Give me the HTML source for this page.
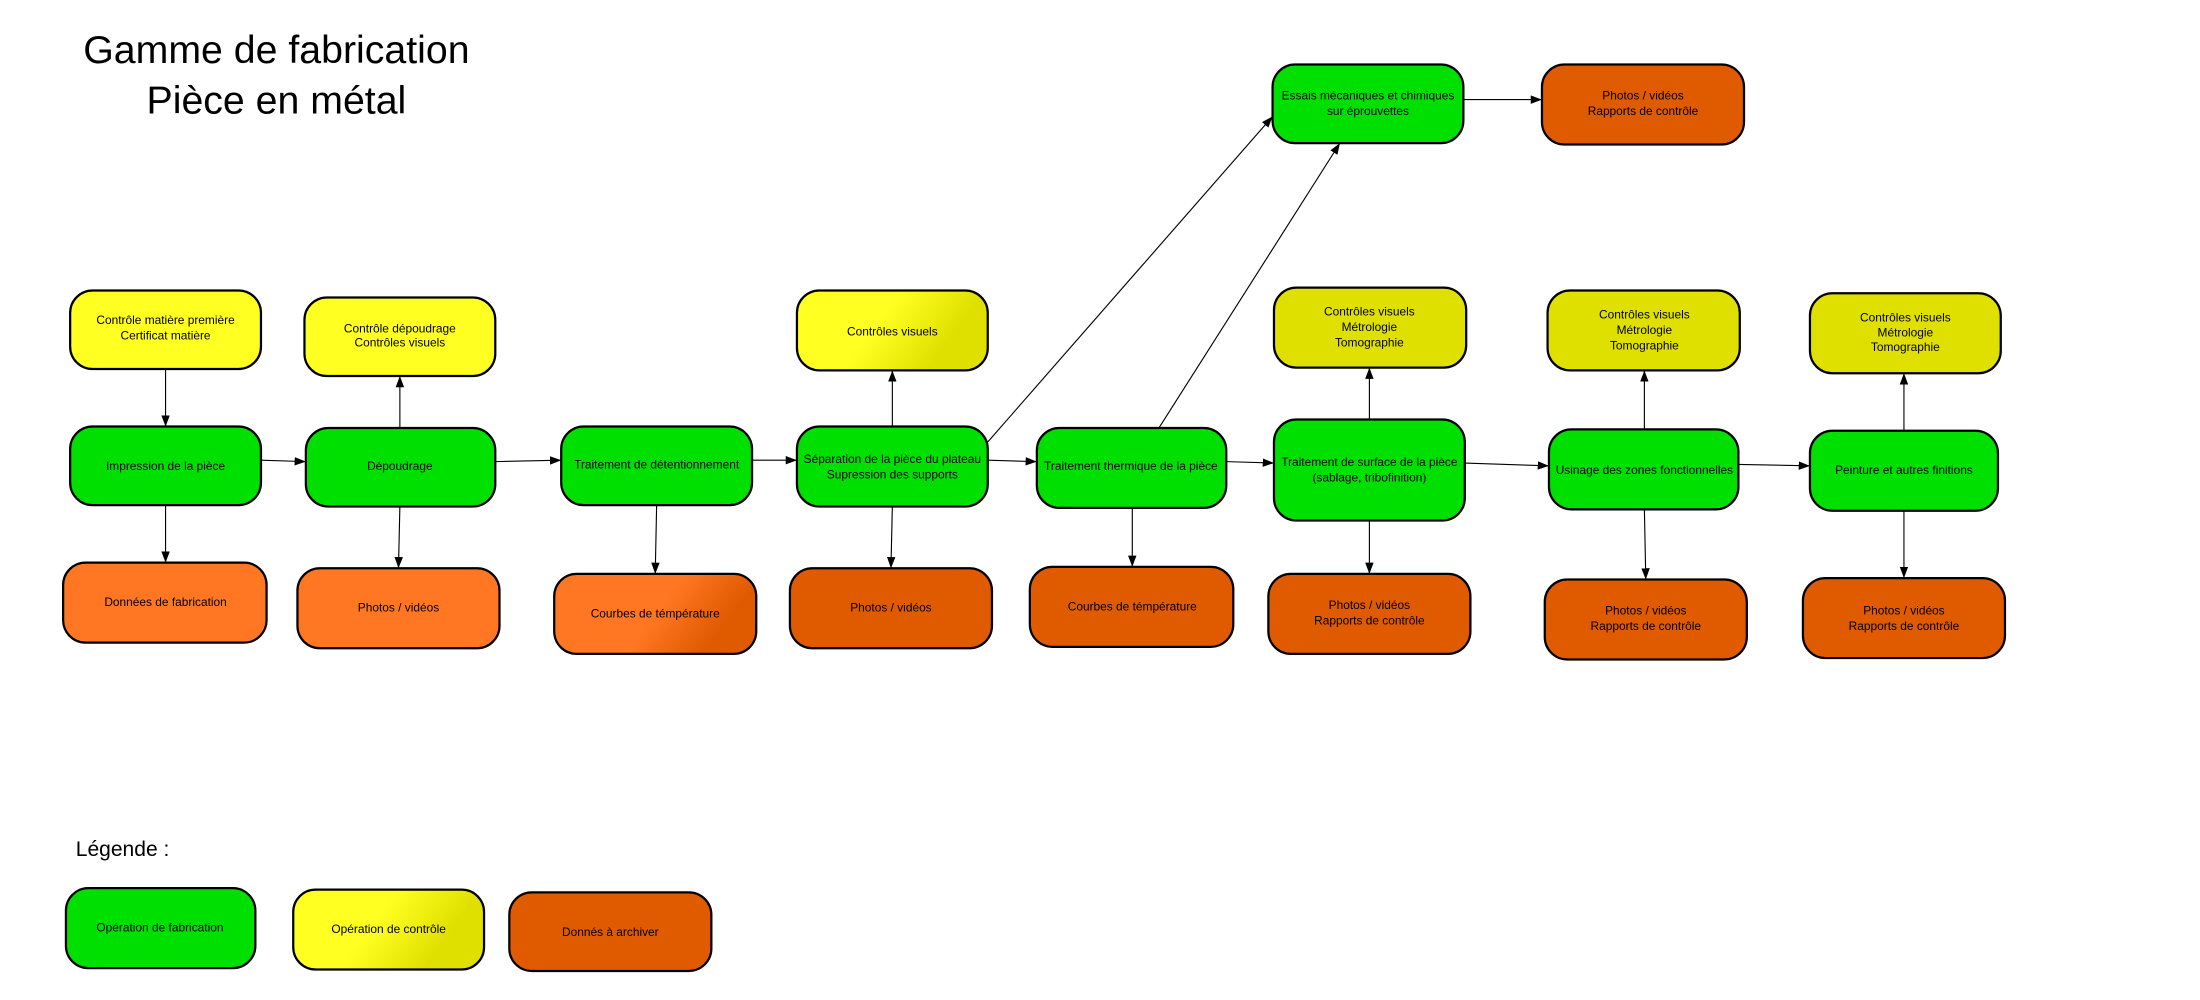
<!DOCTYPE html>
<html><head><meta charset="utf-8"><style>
html,body{margin:0;padding:0;background:#fff;}
svg{display:block;}
text{font-family:"Liberation Sans",sans-serif;fill:#000;}
</style></head><body>
<svg width="2200" height="1000" viewBox="0 0 1568 712.7" preserveAspectRatio="none" xmlns="http://www.w3.org/2000/svg">
<defs>
<marker id="a" markerWidth="8" markerHeight="6" refX="8" refY="3" orient="auto" markerUnits="userSpaceOnUse">
<path d="M0,0 L8,3 L0,6 z" fill="#000"/></marker>
<linearGradient id="gy" x1="0" y1="0" x2="1" y2="0.3"><stop offset="0.5" stop-color="#ffff22"/><stop offset="0.9" stop-color="#e0e000"/></linearGradient>
<linearGradient id="go" x1="0" y1="0" x2="1" y2="0.3"><stop offset="0.6" stop-color="#ff7722"/><stop offset="0.95" stop-color="#e05a00"/></linearGradient>
</defs>
<text x="197" y="45" font-size="28" text-anchor="middle">Gamme de fabrication</text>
<text x="197" y="81" font-size="28" text-anchor="middle">Pièce en métal</text>

<g stroke="#000" stroke-width="1.6">
<rect x="50" y="207" width="136" height="56" rx="16" fill="#ffff22"/>
<rect x="50" y="304" width="136" height="56" rx="16" fill="#00e000"/>
<rect x="45" y="401" width="145" height="57" rx="16" fill="#ff7722"/>
<rect x="217" y="212" width="136" height="56" rx="16" fill="#ffff22"/>
<rect x="218" y="305" width="135" height="56" rx="16" fill="#00e000"/>
<rect x="212" y="405" width="144" height="57" rx="16" fill="#ff7722"/>
<rect x="400" y="304" width="136" height="56" rx="16" fill="#00e000"/>
<rect x="395" y="409" width="144" height="57" rx="16" fill="url(#go)"/>
<rect x="568" y="207" width="136" height="57" rx="16" fill="url(#gy)"/>
<rect x="568" y="304" width="136" height="57" rx="16" fill="#00e000"/>
<rect x="563" y="405" width="144" height="57" rx="16" fill="#e05a00"/>
<rect x="739" y="305" width="135" height="57" rx="16" fill="#00e000"/>
<rect x="734" y="404" width="145" height="57" rx="16" fill="#e05a00"/>
<rect x="907" y="46" width="136" height="56" rx="16" fill="#00e000"/>
<rect x="1099" y="46" width="144" height="57" rx="16" fill="#e05a00"/>
<rect x="908" y="205" width="137" height="57" rx="16" fill="#e0e000"/>
<rect x="908" y="299" width="136" height="72" rx="16" fill="#00e000"/>
<rect x="904" y="409" width="144" height="57" rx="16" fill="#e05a00"/>
<rect x="1103" y="207" width="137" height="57" rx="16" fill="#e0e000"/>
<rect x="1104" y="306" width="135" height="57" rx="16" fill="#00e000"/>
<rect x="1101" y="413" width="144" height="57" rx="16" fill="#e05a00"/>
<rect x="1290" y="209" width="136" height="57" rx="16" fill="#e0e000"/>
<rect x="1290" y="307" width="134" height="57" rx="16" fill="#00e000"/>
<rect x="1285" y="412" width="144" height="57" rx="16" fill="#e05a00"/>
<rect x="47" y="633" width="135" height="57" rx="16" fill="#00e000"/>
<rect x="209" y="634" width="136" height="57" rx="16" fill="url(#gy)"/>
<rect x="363" y="636" width="144" height="56" rx="16" fill="#e05a00"/>
</g>

<g stroke="#000" stroke-width="0.8" marker-end="url(#a)">
<line x1="118" y1="263" x2="118" y2="304"/>
<line x1="186" y1="328" x2="218" y2="329"/>
<line x1="118" y1="360" x2="118" y2="401"/>
<line x1="285" y1="305" x2="285" y2="268"/>
<line x1="285" y1="361" x2="284" y2="405"/>
<line x1="353" y1="329" x2="400" y2="328"/>
<line x1="468" y1="360" x2="467" y2="409"/>
<line x1="536" y1="328" x2="568" y2="328"/>
<line x1="636" y1="304" x2="636" y2="264"/>
<line x1="636" y1="361" x2="635" y2="405"/>
<line x1="704" y1="328" x2="739" y2="329"/>
<line x1="704" y1="315" x2="907" y2="83"/>
<line x1="826" y1="305" x2="955" y2="102"/>
<line x1="807" y1="362" x2="807" y2="404"/>
<line x1="874" y1="329" x2="908" y2="330"/>
<line x1="976" y1="299" x2="976" y2="262"/>
<line x1="976" y1="371" x2="976" y2="409"/>
<line x1="1044" y1="330" x2="1104" y2="332"/>
<line x1="1043" y1="71" x2="1099" y2="71"/>
<line x1="1172" y1="306" x2="1172" y2="264"/>
<line x1="1172" y1="363" x2="1173" y2="413"/>
<line x1="1239" y1="331" x2="1290" y2="332"/>
<line x1="1357" y1="307" x2="1357" y2="266"/>
<line x1="1357" y1="364" x2="1357" y2="412"/>
</g>

<g font-size="8.5" text-anchor="middle">
<text x="118" y="231">Contrôle matière première</text><text x="118" y="242">Certificat matière</text>
<text x="118" y="335">Impression de la pièce</text>
<text x="118" y="432">Données de fabrication</text>
<text x="285" y="237">Contrôle dépoudrage</text><text x="285" y="247">Contrôles visuels</text>
<text x="285" y="335">Dépoudrage</text>
<text x="284" y="436">Photos / vidéos</text>
<text x="468" y="334">Traitement de détentionnement</text>
<text x="467" y="440">Courbes de témpérature</text>
<text x="636" y="239">Contrôles visuels</text>
<text x="636" y="330">Séparation de la pièce du plateau</text><text x="636" y="341">Supression des supports</text>
<text x="635" y="436">Photos / vidéos</text>
<text x="806" y="335">Traitement thermique de la pièce</text>
<text x="807" y="435">Courbes de témpérature</text>
<text x="975" y="71">Essais mécaniques et chimiques</text><text x="975" y="82">sur éprouvettes</text>
<text x="1171" y="71">Photos / vidéos</text><text x="1171" y="82">Rapports de contrôle</text>
<text x="976" y="225">Contrôles visuels</text><text x="976" y="236">Métrologie</text><text x="976" y="247">Tomographie</text>
<text x="976" y="332">Traitement de surface de la pièce</text><text x="976" y="343">(sablage, tribofinition)</text>
<text x="976" y="434">Photos / vidéos</text><text x="976" y="445">Rapports de contrôle</text>
<text x="1172" y="227">Contrôles visuels</text><text x="1172" y="238">Métrologie</text><text x="1172" y="249">Tomographie</text>
<text x="1172" y="338">Usinage des zones fonctionnelles</text>
<text x="1173" y="438">Photos / vidéos</text><text x="1173" y="449">Rapports de contrôle</text>
<text x="1358" y="229">Contrôles visuels</text><text x="1358" y="240">Métrologie</text><text x="1358" y="250">Tomographie</text>
<text x="1357" y="338">Peinture et autres finitions</text>
<text x="1357" y="438">Photos / vidéos</text><text x="1357" y="449">Rapports de contrôle</text>
<text x="114" y="664">Opération de fabrication</text>
<text x="277" y="665">Opération de contrôle</text>
<text x="435" y="667">Donnés à archiver</text>
</g>
<text x="54" y="610" font-size="15">Légende :</text>
</svg>
</body></html>
